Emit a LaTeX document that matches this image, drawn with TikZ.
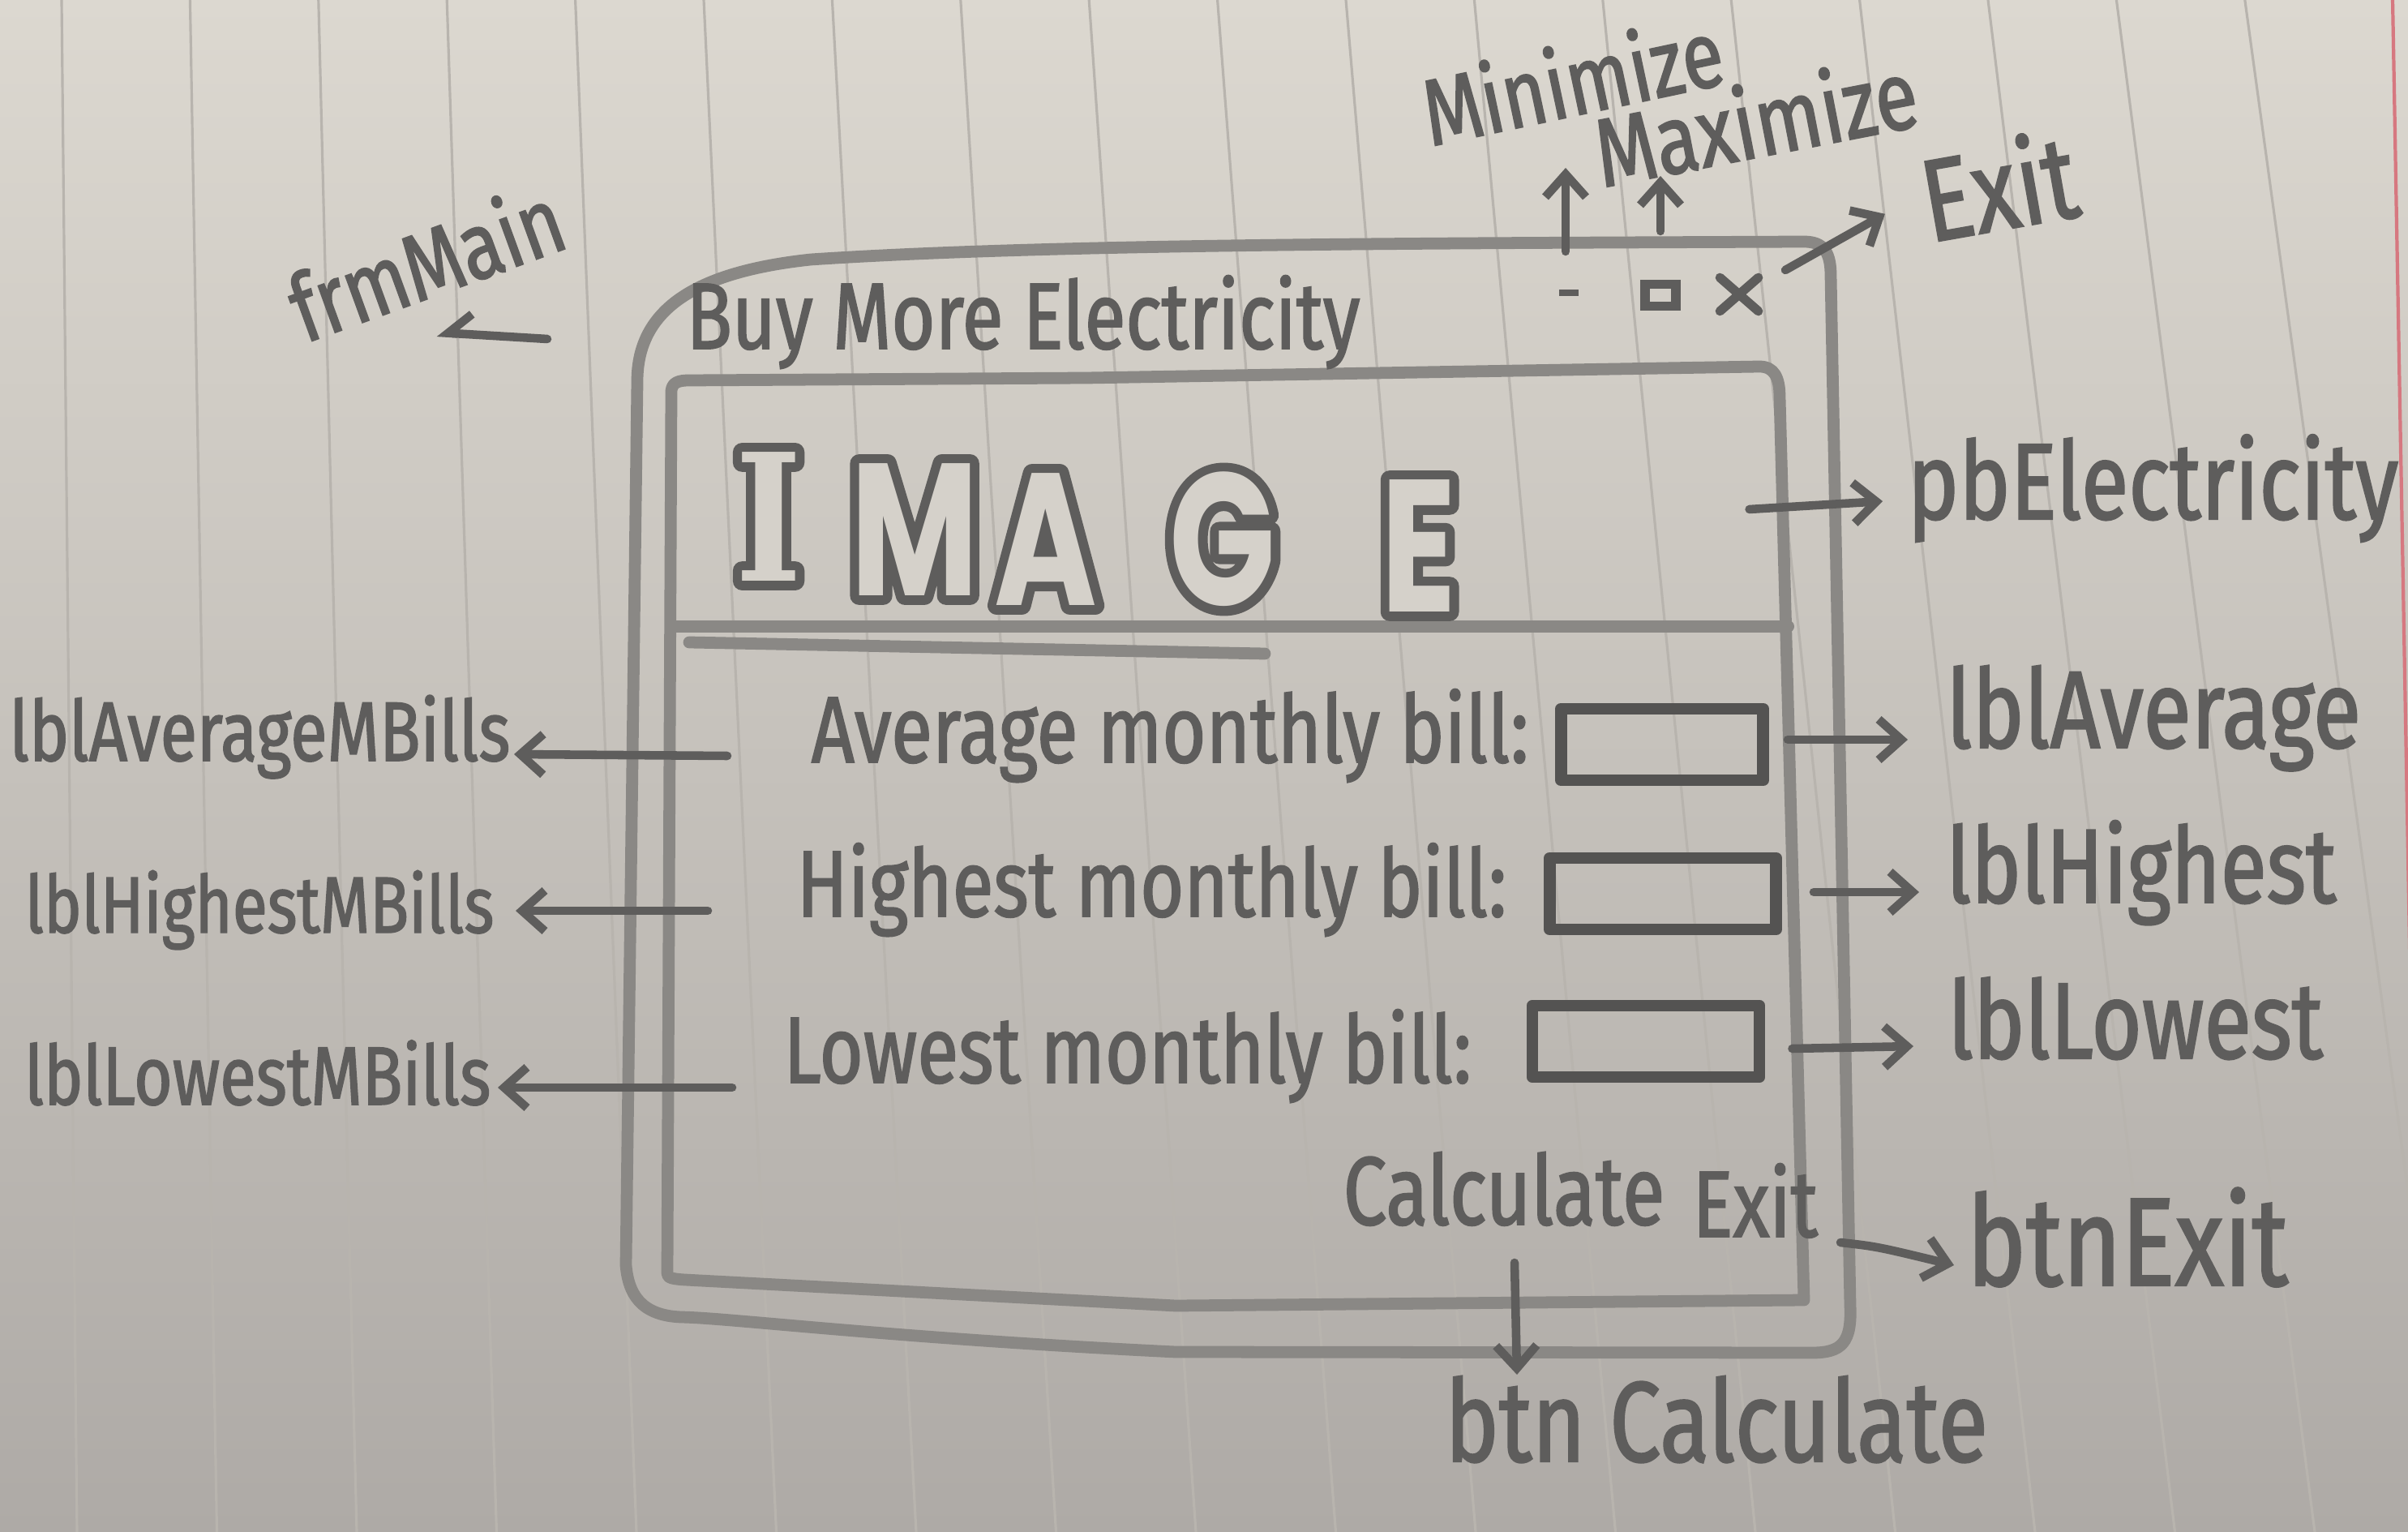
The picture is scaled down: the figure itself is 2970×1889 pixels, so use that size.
\documentclass[tikz,border=0pt]{standalone}
\usepackage{fontspec}
\usetikzlibrary{arrows.meta,calc}

\newfontfamily\hand[FakeStretch=0.8, FakeBold=1.5]{Fira Sans}
\newfontfamily\blockfont[FakeStretch=0.74]{Poppins}
\newfontfamily\slabfont[FakeStretch=0.8]{DejaVu Serif}

\definecolor{paperTop}{RGB}{220,216,208}
\definecolor{paperMid}{RGB}{206,202,195}
\definecolor{paperBot}{RGB}{174,170,166}
\definecolor{ruleLine}{RGB}{184,180,174}
\definecolor{marginRed}{RGB}{214,120,128}
\definecolor{pencil}{RGB}{94,93,92}
\definecolor{pencilDark}{RGB}{84,83,82}
\definecolor{pencilLight}{RGB}{138,136,133}
\definecolor{imgFill}{RGB}{213,209,202}

% bubble lettering: a thick stroked copy under a paper-filled copy
\newcommand\bubble[1]{\rlap{\special{pdf:literal direct 1 Tr 6.5 w 1 j}#1\special{pdf:literal direct 0 Tr}}\textcolor{imgFill}{#1}}

\begin{document}
\begin{tikzpicture}[x=0.01cm, y=-0.01cm,
  pen/.style={draw=pencil, line width=3.2pt, line cap=round, line join=round},
  frame/.style={draw=pencilLight, line width=4.2pt, line cap=round, line join=round},
  conn/.style={draw=pencil, line width=3pt, line cap=round,
    -{Straight Barb[length=0.28cm,width=0.5cm]}},
  hw/.style={font={\hand\fontsize{#1pt}{#1pt}\selectfont}, text=pencil, inner sep=0pt},
  field/.style={draw=pencilDark, line width=4.2pt, line join=round,
    minimum width=#1, minimum height=0.88cm, inner sep=0pt},
  letter/.style={font={\blockfont\bfseries\fontsize{66pt}{66pt}\selectfont}, text=pencil, inner sep=0pt},
  slabletter/.style={font={\slabfont\bfseries\fontsize{62pt}{62pt}\selectfont}, text=pencil, inner sep=0pt},
  ruled/.style={draw=ruleLine, line width=0.9pt}]

\useasboundingbox (0,0) rectangle (2970,1889);

% lined paper
\shade[top color=paperTop, middle color=paperMid, bottom color=paperBot]
  (0,0) rectangle (2970,1889);
\foreach \i in {0,...,17}
  \draw[ruled] ({76+158.4*\i},0) -- ({95+172.5*\i},1889);
\draw[draw=marginRed, line width=1.2pt] (2951,0) -- (2985,1889);

% window outline
\draw[frame] (772,1560) -- (786,470)
  .. controls (786,380) and (860,335) .. (1000,320)
  .. controls (1300,300) and (1800,300) .. (2225,298)
  .. controls (2250,298) and (2258,312) .. (2258,340)
  -- (2282,1610)
  .. controls (2284,1655) and (2272,1668) .. (2235,1668)
  -- (1450,1667)
  .. controls (1100,1650) and (900,1625) .. (840,1624)
  .. controls (790,1622) and (775,1595) .. (772,1560);

% client area
\draw[frame] (823,1570) -- (828,482)
  .. controls (829,472) and (836,469) .. (850,469)
  -- (1340,466) -- (2170,452)
  .. controls (2188,452) and (2195,465) .. (2195,490)
  -- (2225,1603)
  -- (1450,1610) -- (845,1578)
  .. controls (830,1577) and (823,1576) .. (823,1570);

% title bar
\node[hw=33, anchor=base] (title) at (1262,430) {Buy More Electricity};
\node[fill=pencil, minimum width=0.24cm, minimum height=0.08cm, inner sep=0pt] (minbtn) at (1935,361) {};
\node[draw=pencil, line width=3.2pt, minimum width=0.38cm, minimum height=0.27cm, inner sep=0pt] (maxbtn) at (2048,364) {};
\node[minimum width=0.46cm, minimum height=0.4cm, inner sep=0pt] (closebtn) at (2145,363) {};
\draw[pen] (closebtn.north west) -- (closebtn.south east);
\draw[pen] (closebtn.south west) -- (closebtn.north east);

% picture box
\node[minimum width=13.75cm, minimum height=3.07cm, inner sep=0pt] (pbox) at (1517,618) {};
\draw[frame] (pbox.south west) -- (pbox.south east);
\draw[frame] (850,792) -- (1560,806);
\node[slabletter] (imgI) at (948,637) {\bubble{I}};
\node[letter] (imgM) at (1128,653) {\bubble{M}};
\node[letter] (imgA) at (1290,665) {\bubble{A}};
\node[letter] (imgG) at (1508,665) {\bubble{G}};
\node[letter] (imgE) at (1750,673) {\bubble{E}};

% output rows
\node[hw=33, anchor=base west] (avgTxt) at (1000,940) {Average monthly bill:};
\node[hw=33, anchor=base west] (hiTxt) at (982,1130) {Highest monthly bill:};
\node[hw=33, anchor=base west] (loTxt) at (966,1335) {Lowest monthly bill:};
\node[field=2.49cm] (avgBox) at (2050,918) {};
\node[field=2.79cm] (hiBox) at (2051,1102) {};
\node[field=2.80cm] (loBox) at (2030,1284) {};

% buttons
\node[hw=34, anchor=base] (calcTxt) at (1855,1510) {Calculate};
\node[hw=33, anchor=base] (exitTxt) at (2165,1525) {Exit};

% annotations: title bar
\node[hw=33, rotate=12] (minLbl) at (1939,98) {Minimize};
\node[hw=34, rotate=11] (maxLbl) at (2165,148) {Maximize};
\node[hw=41, rotate=10] (exitTop) at (2465,228) {Exit};
\draw[conn] ($(minbtn)+(-4,-51)$) -- ($(minbtn)+(-4,-154)$);
\draw[conn] ($(maxbtn)+(0,-79)$) -- ($(maxbtn)+(0,-147)$);
\draw[conn] ($(closebtn)+(57,-30)$) -- ($(exitTop.west)+(-45,19)$);

% annotations: form and picture box
\node[hw=33, rotate=20] (frm) at (525,322) {frmMain};
\coordinate (frmTail) at (675,418);
\draw[draw=pencil, line width=3pt, line cap=round,
  -{Straight Barb[right, length=0.28cm, width=0.5cm]}] (frmTail) -- ($(frm.south)+(-2,44)$);
\node[hw=38, anchor=base west] (pbLbl) at (2352,640) {pbElectricity};
\draw[conn] ($(pbox.east)+(-48,10)$) -- ($(pbLbl.base west)+(-30,-22)$);

% annotations: labels on the left
\node[hw=29.5, anchor=base east] (lblAvgM) at (630,938) {lblAverageMBills};
\node[hw=28, anchor=base east] (lblHiM) at (610,1150) {lblHighestMBills};
\node[hw=29, anchor=base east] (lblLoM) at (606,1362) {lblLowestMBills};
\draw[conn] ($(avgTxt.base west)+(-103,-8)$) -- ($(lblAvgM.base east)+(4,-8)$);
\draw[conn] ($(hiTxt.base west)+(-109,-7)$) -- ($(lblHiM.base east)+(26,-27)$);
\draw[conn] ($(loTxt.base west)+(-63,6)$) -- ($(lblLoM.base east)+(8,-21)$);

% annotations: labels on the right
\node[hw=38.5, anchor=base west] (lblAvg) at (2400,922) {lblAverage};
\node[hw=37, anchor=base west] (lblHi) at (2400,1113) {lblHighest};
\node[hw=38, anchor=base west] (lblLo) at (2402,1305) {lblLowest};
\draw[conn] ($(avgBox.east)+(23,-6)$) -- ($(lblAvg.base west)+(-47,-10)$);
\draw[conn] ($(hiBox.east)+(39,-2)$) -- ($(lblHi.base west)+(-33,-13)$);
\draw[conn] ($(loBox.east)+(33,9)$) -- ($(lblLo.base west)+(-42,-15)$);

% annotations: buttons
\node[hw=44, anchor=base west] (btnExitLbl) at (2425,1585) {btnExit};
\draw[conn] ($(exitTxt.base)+(105,7)$) .. controls ($(exitTxt.base)+(150,12)$) .. ($(btnExitLbl.base west)+(-15,-25)$);
\node[hw=40, anchor=base] (btnCalcLbl) at (2117,1802) {btn Calculate};
\draw[conn] ($(calcTxt.base)+(13,47)$) -- ($(calcTxt.base)+(16,185)$);

\end{tikzpicture}
\end{document}
